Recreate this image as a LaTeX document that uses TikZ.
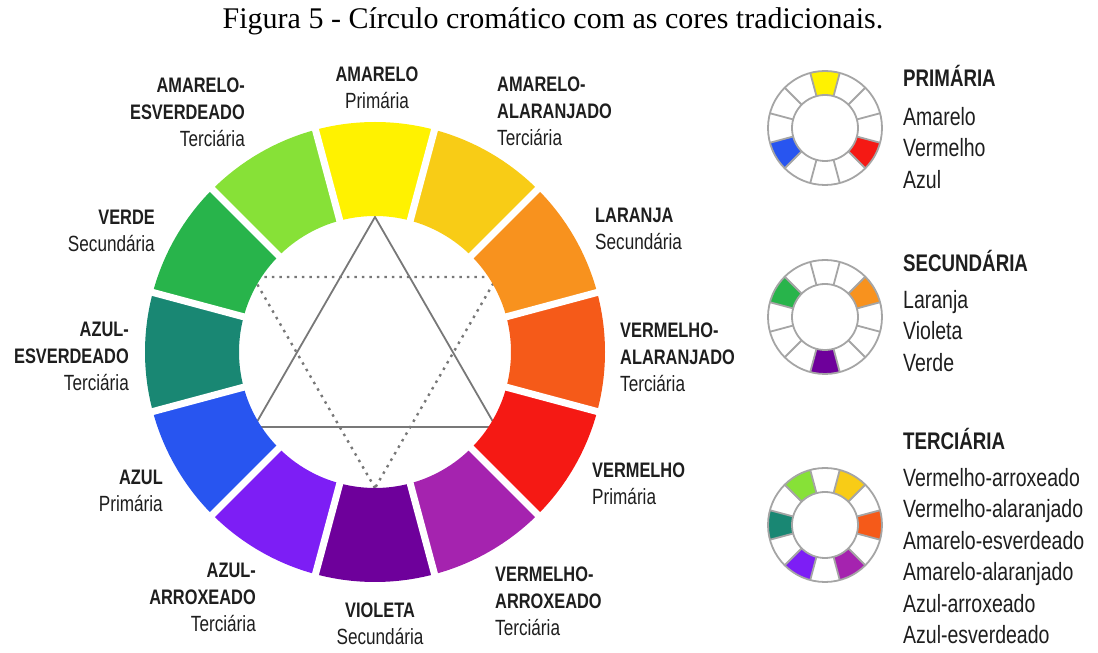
\documentclass[tikz,border=0pt]{standalone}
\usepackage{fontspec}
\setmainfont{Liberation Serif}
\newfontfamily\rotfont[FakeStretch=0.78]{Liberation Sans}
\usetikzlibrary{positioning}

\definecolor{amarelo}{RGB}{255,242,0}
\definecolor{amaralar}{RGB}{248,204,22}
\definecolor{laranja}{RGB}{248,146,30}
\definecolor{vermalar}{RGB}{245,90,25}
\definecolor{vermelho}{RGB}{245,25,20}
\definecolor{vermarrox}{RGB}{165,35,175}
\definecolor{violeta}{RGB}{110,0,155}
\definecolor{azularrox}{RGB}{125,30,245}
\definecolor{azul}{RGB}{40,85,240}
\definecolor{azulesv}{RGB}{25,135,115}
\definecolor{verde}{RGB}{40,180,75}
\definecolor{amaresv}{RGB}{135,225,55}
\definecolor{aro}{RGB}{165,165,165}
\definecolor{risco}{RGB}{120,120,120}
\definecolor{tinta}{RGB}{30,30,30}

\newcommand{\tipo}[1]{{\mdseries\fontsize{22}{27}\selectfont #1}}

\tikzset{
  rotulo/.style={font=\rotfont\bfseries\fontsize{21}{27}\selectfont, inner sep=0pt, text=tinta},
  legtitulo/.style={font=\rotfont\bfseries\fontsize{24}{32}\selectfont, inner sep=0pt, anchor=base west, text=tinta},
  legitens/.style={font=\rotfont\fontsize{25}{31.5}\selectfont, inner sep=0pt, anchor=north west, align=left, text=tinta},
}

\begin{document}
\begin{tikzpicture}[x=1pt,y=1pt]
\useasboundingbox (0,0) rectangle (1098,653);
\coordinate (c) at (375,301);

\node[font=\fontsize{30}{33}\selectfont, anchor=base, inner sep=0pt] (titulo) at (553,624) {Figura 5 - Círculo cromático com as cores tradicionais.};

% triangulos (ficam por baixo dos setores)
\coordinate (t1) at (375,436);
\coordinate (t2) at (254,226);
\coordinate (t3) at (496,226);
\coordinate (d1) at (375,165);
\coordinate (d2) at (253,376);
\coordinate (d3) at (497,376);
\draw[risco, line width=1.8pt] (t1) -- (t2) -- (t3) -- cycle;
\draw[risco, line width=2.4pt, dash pattern=on 2.5pt off 5pt] (d1) -- (d2) -- (d3) -- cycle;

% circulo grande
\foreach \ang/\cor in {90/amarelo,60/amaralar,30/laranja,0/vermalar,-30/vermelho,-60/vermarrox,-90/violeta,-120/azularrox,-150/azul,180/azulesv,150/verde,120/amaresv}
  \fill[\cor, shift={(c)}] (\ang-15:230) arc[start angle=\ang-15, end angle=\ang+15, radius=230]
    -- (\ang+15:136) arc[start angle=\ang+15, end angle=\ang-15, radius=136] -- cycle;
\foreach \ang in {15,45,...,345}
  \draw[white, line width=7pt, shift={(c)}] (\ang:133) -- (\ang:240);

% rotulos
\node[rotulo, anchor=north, align=center] (amareloL) at (377,586) {AMARELO\\\tipo{Primária}};
\node[rotulo, anchor=north east, align=right] (amaresvL) at (245,575) {AMARELO-\\ESVERDEADO\\\tipo{Terciária}};
\node[rotulo, anchor=north east, align=right] (verdeL) at (155,443) {VERDE\\\tipo{Secundária}};
\node[rotulo, anchor=north east, align=right] (azulesvL) at (129,331) {AZUL-\\ESVERDEADO\\\tipo{Terciária}};
\node[rotulo, anchor=north east, align=right] (azulL) at (163,183) {AZUL\\\tipo{Primária}};
\node[rotulo, anchor=north east, align=right] (azularroxL) at (256,90) {AZUL-\\ARROXEADO\\\tipo{Terciária}};
\node[rotulo, anchor=north, align=center] (violetaL) at (380,50) {VIOLETA\\\tipo{Secundária}};
\node[rotulo, anchor=north west, align=left] (vermarroxL) at (495,86) {VERMELHO-\\ARROXEADO\\\tipo{Terciária}};
\node[rotulo, anchor=north west, align=left] (vermelhoL) at (592,190) {VERMELHO\\\tipo{Primária}};
\node[rotulo, anchor=north west, align=left] (vermalarL) at (620,330) {VERMELHO-\\ALARANJADO\\\tipo{Terciária}};
\node[rotulo, anchor=north west, align=left] (laranjaL) at (595,445) {LARANJA\\\tipo{Secundária}};
\node[rotulo, anchor=north west, align=left] (amaralarL) at (497,576) {AMARELO-\\ALARANJADO\\\tipo{Terciária}};

% circulos pequenos
\foreach \cy/\cells in {525/{90/amarelo,-30/vermelho,-150/azul},
                        336/{30/laranja,-90/violeta,150/verde},
                        128/{120/amaresv,60/amaralar,0/vermalar,-60/vermarrox,-120/azularrox,180/azulesv}}{
  \begin{scope}[shift={(825,\cy)}]
  \foreach \ang/\cor in \cells
    \fill[\cor] (\ang-15:57) arc[start angle=\ang-15, end angle=\ang+15, radius=57]
      -- (\ang+15:33) arc[start angle=\ang+15, end angle=\ang-15, radius=33] -- cycle;
  \draw[aro, line width=1.8pt] (0,0) circle (57) (0,0) circle (33);
  \foreach \ang in {15,45,...,345}
    \draw[aro, line width=1.8pt] (\ang:33) -- (\ang:57);
  \end{scope}
}

% legendas
\node[legtitulo] (primaria) at (903,566) {PRIMÁRIA};
\node[legitens] (primariaItens) at (903,546) {Amarelo\\Vermelho\\Azul};
\node[legtitulo] (secundaria) at (903,381) {SECUNDÁRIA};
\node[legitens] (secundariaItens) at (903,363) {Laranja\\Violeta\\Verde};
\node[legtitulo] (terciaria) at (903,203) {TERCIÁRIA};
\node[legitens] (terciariaItens) at (903,185) {Vermelho-arroxeado\\Vermelho-alaranjado\\Amarelo-esverdeado\\Amarelo-alaranjado\\Azul-arroxeado\\Azul-esverdeado};
\end{tikzpicture}
\end{document}
